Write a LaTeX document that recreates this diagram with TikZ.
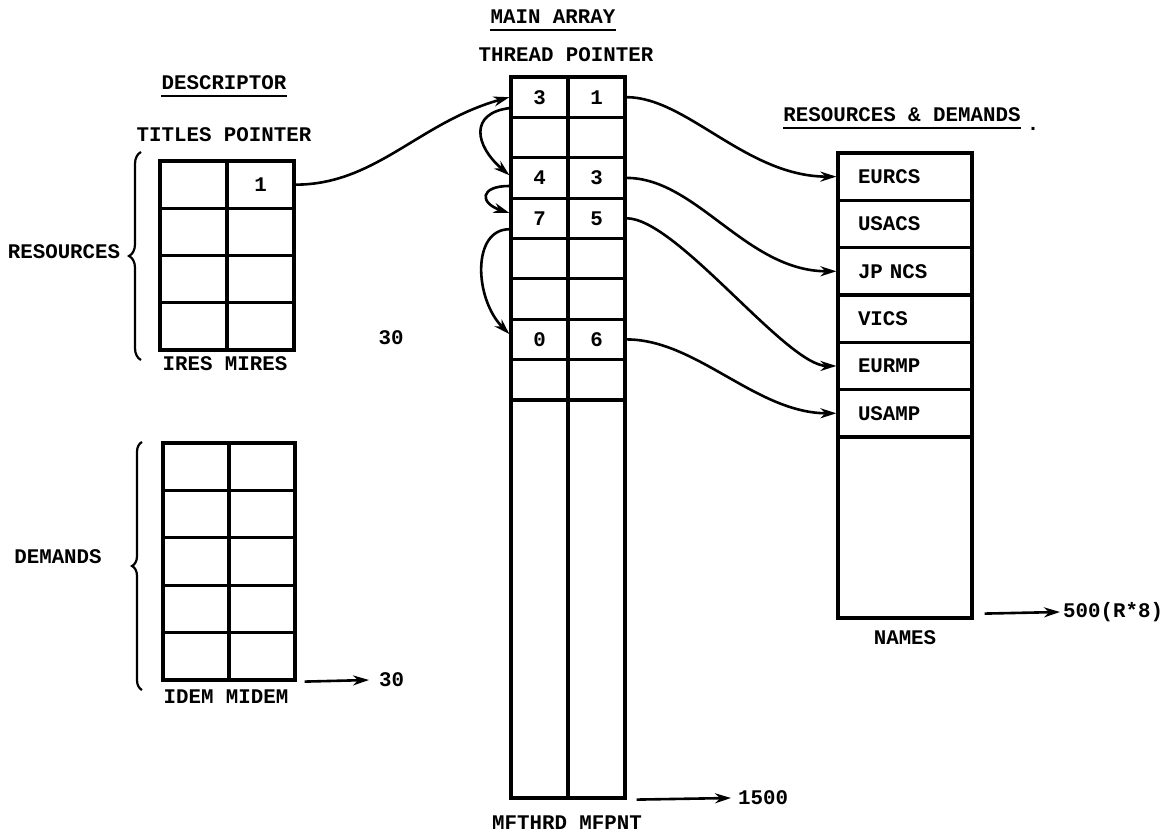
\documentclass[tikz,border=0pt]{standalone}
\usepackage{fontspec}
\setmainfont{Liberation Mono}
\usepackage{tikz}
\usetikzlibrary{arrows.meta,decorations.pathreplacing}
\tikzset{
  lbl/.style  ={inner sep=2pt, font=\bfseries\fontsize{20.8}{24}\selectfont},
  ttl/.style  ={lbl, inner xsep=0pt, inner ysep=6pt},
  cell/.style ={lbl, draw, rectangle, line width=3.2pt, inner sep=0pt},
  rcell/.style={cell, minimum width=67pt, minimum height=47.25pt},
  dcell/.style={cell, minimum width=66pt, minimum height=47.4pt},
  mcell/.style={cell, minimum width=57pt, minimum height=40.375pt},
  ncell/.style={cell, minimum width=134pt, minimum height=47.33pt, inner xsep=20pt,
                text width=94pt, align=left},
  ar/.style   ={-{Stealth[length=16pt,width=10pt]}, line width=2.6pt},
  uline/.style={line width=2pt},
  brc/.style  ={decorate, line width=2.2pt},
}
\begin{document}
\begin{tikzpicture}[x=1pt,y=-1pt]
\useasboundingbox (0,0) rectangle (1170,834);
\node[ttl] (desc) at (224,83) {DESCRIPTOR};
\draw[uline] (desc.south west) -- (desc.south east);
\node[lbl] (tipo) at (224,135) {TITLES POINTER};
\foreach \i/\p in {1/1,2/{},3/{},4/{}} {
  \node[rcell] (rt\i) at (193.5,{137.4+47.25*\i}) {};
  \node[rcell] (rp\i) at (260.5,{137.4+47.25*\i}) {\p};
}
\draw[brc, decoration={brace, amplitude=12pt}] (141,360) -- (141,152);
\node[lbl] (res) at (64,252) {RESOURCES};
\node[lbl] (irm) at (225,364) {IRES MIRES};
\node[lbl] (thirtya) at (391,338) {30};
\foreach \i in {1,...,5} {
  \node[dcell] (dt\i) at (196,{419.3+47.4*\i}) {};
  \node[dcell] (dp\i) at (262,{419.3+47.4*\i}) {};
}
\draw[brc, decoration={brace, amplitude=10pt}] (142,690) -- (142,442);
\node[lbl] (dem) at (58,557) {DEMANDS};
\node[lbl] (idm) at (226,697) {IDEM MIDEM};
\node[lbl, anchor=west, inner xsep=10pt] (thirtyb) at (369,680) {30};
\draw[ar] ([xshift=8pt]dp5.south east) -- (thirtyb.west);
\node[ttl] (mat) at (553,17) {MAIN ARRAY};
\draw[uline] (mat.south west) -- (mat.south east);
\node[lbl] (thp) at (566,55) {THREAD POINTER};
\foreach \i/\t/\p in {1/3/1,2/{}/{},3/4/3,4/7/5,5/{}/{},6/{}/{},7/0/6,8/{}/{}} {
  \node[mcell] (mt\i) at (539.5,{56.8+40.375*\i}) {\t};
  \node[mcell] (mp\i) at (596.5,{56.8+40.375*\i}) {\p};
}
\node[mcell, minimum height=398pt] (mtb) at (539.5,599) {};
\node[mcell, minimum height=398pt] (mpb) at (596.5,599) {};
\node[lbl] (mfl) at (567,823) {MFTHRD MFPNT};
\node[lbl, anchor=west, inner xsep=7pt] (fifteen) at (731,798) {1500};
\draw[ar] ([xshift=10pt]mpb.south east) -- (fifteen.west);
\node[ttl] (rdt) at (902,115) {RESOURCES \& DEMANDS};
\draw[uline] (rdt.south west) -- (rdt.south east);
\node[lbl, anchor=base] (rdot) at (1033,131) {.};
\foreach \i/\n in {1/EURCS,2/USACS,3/JP NCS,4/VICS,5/EURMP,6/USAMP} {
  \node[ncell] (nm\i) at (905,{129.3+47.33*\i}) {\n};
}
\node[cell, minimum width=134pt, minimum height=181pt] (nmb) at (905,527.5) {};
\node[lbl] (nml) at (905,638) {NAMES};
\node[lbl, anchor=west, inner xsep=3pt] (fivehundred) at (1060,612) {500(R*8)};
\draw[ar] ([xshift=11pt,yshift=6pt]nmb.south east) -- (fivehundred.west);
\draw[ar] (rp1.east) .. controls +(80,0) and +(-90,25) .. (mt1.west);
\draw[ar] (mt1.200) .. controls +(-40,5) and +(-35,-30) .. (mt3.175);
\draw[ar] (mt3.195) .. controls +(-30,0) and +(-30,-10) .. (mt4.170);
\draw[ar] (mt4.200) .. controls +(-38,0) and +(-35,-35) .. (mt7.170);
\draw[ar] (mp1.east) .. controls +(60,0) and +(-90,0) .. (nm1.west);
\draw[ar] (mp3.east) .. controls +(70,0) and +(-90,0) .. (nm3.west);
\draw[ar] (mp4.east) .. controls +(50,0) and +(-50,0) .. (nm5.west);
\draw[ar] (mp7.east) .. controls +(70,0) and +(-80,0) .. (nm6.west);
\end{tikzpicture}
\end{document}
